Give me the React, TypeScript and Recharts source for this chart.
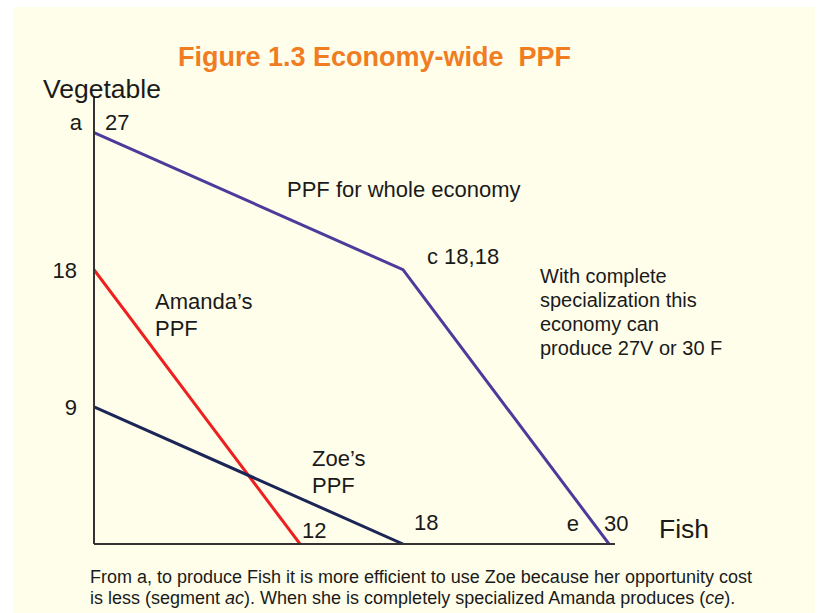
import React from "react"
import { LineChart, Line, XAxis, YAxis, ReferenceDot } from "recharts"

// whole-economy PPF: a -> c -> e
const economyFish = [0, 18, 30]
const economyVeg = [27, 18, 0]
// Amanda alone
const amandaFish = [0, 12]
const amandaVeg = [18, 0]
// Zoe alone
const zoeFish = [0, 18]
const zoeVeg = [9, 0]

const vegTicks = [9, 18]

const toRows = (fish: number[], veg: number[]) => fish.map((f, i) => ({ fish: f, veg: veg[i] }))

const economyRows = toRows(economyFish, economyVeg)
const amandaRows = toRows(amandaFish, amandaVeg)
const zoeRows = toRows(zoeFish, zoeVeg)

const FONT = "'Liberation Sans', Arial, sans-serif"
const INK = "#1a1a1a"
const LBL = { fontSize: 22, fill: INK, fontFamily: FONT }

const txt = (left: number, top: number, size: number, extra: React.CSSProperties = {}): React.CSSProperties => ({
  position: "absolute",
  left,
  top,
  fontSize: size,
  fontFamily: FONT,
  color: INK,
  lineHeight: 1.3,
  whiteSpace: "pre",
  ...extra,
})

export default function App() {
  return (
    <div style={{ position: "absolute", left: 0, top: 0, width: 818, height: 613, background: "#ffffff", overflow: "hidden" }}>
      <div style={{ position: "absolute", left: 13, top: 7, width: 802, height: 606, background: "#fffeeb" }} />

      <LineChart
        width={818}
        height={613}
        margin={{ top: 96, right: 203, bottom: 39, left: 34 }}
        style={{ position: "absolute", left: 0, top: 0 }}
      >
        <XAxis
          type="number"
          dataKey="fish"
          domain={[0, 30.35]}
          allowDataOverflow
          tick={false}
          tickLine={false}
          height={30}
          axisLine={{ stroke: "#333", strokeWidth: 2 }}
        />
        <YAxis
          type="number"
          dataKey="veg"
          domain={[0, 29.4]}
          allowDataOverflow
          ticks={vegTicks}
          tickLine={false}
          width={60}
          tickMargin={11}
          tick={{ fill: INK, fontSize: 22, fontFamily: FONT }}
          axisLine={{ stroke: "#333", strokeWidth: 2 }}
        />
        <Line data={economyRows} dataKey="veg" stroke="#4b3c9c" strokeWidth={3} dot={false} isAnimationActive={false} />
        <Line data={amandaRows} dataKey="veg" stroke="#ee1f1f" strokeWidth={3} dot={false} isAnimationActive={false} />
        <Line data={zoeRows} dataKey="veg" stroke="#1c2656" strokeWidth={3} dot={false} isAnimationActive={false} />
        <ReferenceDot x={0} y={27} r={0} label={{ value: "27", position: "right", dx: 6, dy: -10, ...LBL }} />
        <ReferenceDot x={0} y={27} r={0} label={{ value: "a", position: "left", dx: -7, dy: -10, ...LBL }} />
        <ReferenceDot x={18} y={18} r={0} label={{ value: "c  18,18", position: "right", dx: 19, dy: -14, ...LBL }} />
        <ReferenceDot x={12} y={0} r={0} label={{ value: "12", position: "right", dx: -3, dy: -14, ...LBL }} />
        <ReferenceDot x={18} y={0} r={0} label={{ value: "18", position: "right", dx: 6, dy: -22, ...LBL }} />
        <ReferenceDot x={30} y={0} r={0} label={{ value: "30", position: "right", dx: -10, dy: -21, ...LBL }} />
        <ReferenceDot x={30} y={0} r={0} label={{ value: "e", position: "left", dx: -25, dy: -21, ...LBL }} />
      </LineChart>

      <div style={txt(178, 40, 27, { color: "#f07d22", fontWeight: "bold" })}>Figure 1.3 Economy-wide  PPF</div>
      <div style={txt(43, 72, 26.5)}>Vegetable</div>
      <div style={txt(659, 512, 26.5)}>Fish</div>

      <div style={txt(287, 176, 22)}>PPF for whole economy</div>
      <div style={txt(155, 288, 22, { lineHeight: "27px" })}>{"Amanda’s\nPPF"}</div>
      <div style={txt(312, 445, 22, { lineHeight: "27px" })}>{"Zoe’s\nPPF"}</div>
      <div style={txt(540, 264, 20, { lineHeight: "24px" })}>
        {"With complete\nspecialization this\neconomy can\nproduce 27V or 30 F"}
      </div>

      <div style={txt(90, 567, 18, { lineHeight: "21px", whiteSpace: "nowrap" })}>
        From a, to produce Fish it is more efficient to use Zoe because her opportunity cost
        <br />
        is less (segment <i>ac</i>). When she is completely specialized Amanda produces (<i>ce</i>).
      </div>
    </div>
  )
}
